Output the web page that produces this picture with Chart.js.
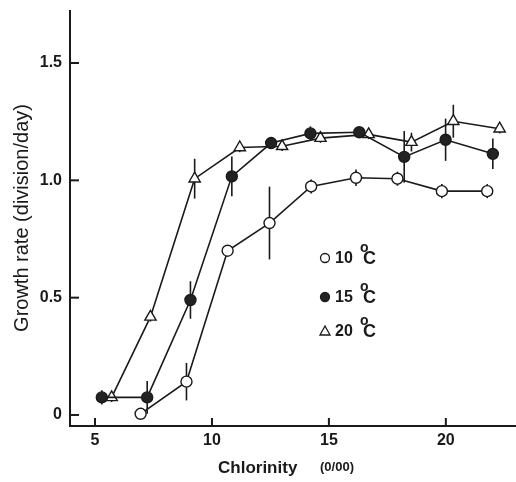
<!DOCTYPE html>
<html>
<head>
<meta charset="utf-8">
<script src="https://cdn.jsdelivr.net/npm/chart.js@4.4.0/dist/chart.umd.min.js"></script>
<style>
  html, body { margin: 0; padding: 0; background: #fff; }
  #wrap { width: 516px; height: 482px; }
</style>
</head>
<body>
<div id="wrap"><canvas id="growthChart" width="516" height="482"></canvas></div>
<script>
// chlorinity (x) and growth rate (y), with error half-widths
var x10 = [6.95, 8.91, 10.67, 12.46, 14.24, 16.16, 17.93, 19.83, 21.77];
var y10 = [0.005, 0.142, 0.70, 0.818, 0.974, 1.011, 1.007, 0.954, 0.954];
var e10 = [0, 0.08, 0.02, 0.155, 0.03, 0.035, 0.03, 0.03, 0.03];

var x15 = [5.29, 7.23, 9.08, 10.85, 12.53, 14.21, 16.3, 18.22, 19.99, 22.01];
var y15 = [0.075, 0.075, 0.49, 1.017, 1.159, 1.20, 1.205, 1.10, 1.173, 1.113];
var e15 = [0.03, 0.07, 0.08, 0.085, 0.02, 0.03, 0.01, 0.11, 0.09, 0.065];

var x20 = [5.71, 7.37, 9.26, 11.19, 13.0, 14.64, 16.7, 18.53, 20.32, 22.3];
var y20 = [0.075, 0.418, 1.007, 1.14, 1.145, 1.18, 1.196, 1.163, 1.252, 1.22];
var e20 = [0.02, 0.02, 0.085, 0.02, 0.02, 0.02, 0.02, 0.04, 0.07, 0.02];

var xTicks = [5, 10, 15, 20];
var yTicks = [0, 0.5, 1.0, 1.5];
var legendLabels = ['10', '15', '20'];

var ink = '#1a1a1a';
var font = '"Liberation Sans", Arial, sans-serif';

function points(xs, ys) {
    var out = [];
    for (var i = 0; i < xs.length; i++) out.push({ x: xs[i], y: ys[i] });
    return out;
}

var datasets = [
    { label: '10', data: points(x10, y10), err: e10, pointStyle: 'circle', pointRadius: 5.5,
      pointBackgroundColor: '#fff' },
    { label: '15', data: points(x15, y15), err: e15, pointStyle: 'circle', pointRadius: 5.5,
      pointBackgroundColor: '#222' },
    { label: '20', data: points(x20, y20), err: e20, pointStyle: 'triangle', pointRadius: 6.5,
      pointBackgroundColor: '#fff' }
];
datasets.forEach(function (d) {
    d.showLine = true;
    d.borderColor = ink;
    d.borderWidth = 1.6;
    d.pointBorderColor = ink;
    d.pointBorderWidth = 1.4;
});

// error bars + inward ticks + legend + x title
var extras = {
    id: 'extras',
    beforeDatasetsDraw: function (chart) {
        var c = chart.ctx, xs = chart.scales.x, ys = chart.scales.y;
        c.save();
        c.strokeStyle = ink;
        c.lineWidth = 1.6;
        chart.data.datasets.forEach(function (d) {
            d.data.forEach(function (p, i) {
                var e = d.err[i];
                if (!e) return;
                var px = xs.getPixelForValue(p.x);
                c.beginPath();
                c.moveTo(px, ys.getPixelForValue(p.y - e));
                c.lineTo(px, ys.getPixelForValue(p.y + e));
                c.stroke();
            });
        });
        c.restore();
    },
    afterDraw: function (chart) {
        var c = chart.ctx, xs = chart.scales.x, ys = chart.scales.y, a = chart.chartArea;
        c.save();
        c.strokeStyle = ink;
        c.lineWidth = 2;
        // axes
        c.beginPath();
        c.moveTo(a.left, a.top);
        c.lineTo(a.left, a.bottom);
        c.lineTo(a.right, a.bottom);
        c.stroke();
        // inward ticks
        xTicks.forEach(function (v) {
            var px = xs.getPixelForValue(v);
            c.beginPath(); c.moveTo(px, a.bottom); c.lineTo(px, a.bottom - 8); c.stroke();
        });
        yTicks.forEach(function (v) {
            var py = ys.getPixelForValue(v);
            c.beginPath(); c.moveTo(a.left, py); c.lineTo(a.left + 9, py); c.stroke();
        });

        // legend
        var rows = [258, 297, 331];
        c.fillStyle = ink;
        c.textBaseline = 'middle';
        c.lineWidth = 1.3;
        rows.forEach(function (ry, i) {
            var d = chart.data.datasets[i];
            c.beginPath();
            if (d.pointStyle === 'triangle') {
                c.moveTo(325, ry - 5); c.lineTo(330, ry + 4); c.lineTo(320, ry + 4); c.closePath();
                c.fillStyle = '#fff'; c.fill();
            } else {
                c.arc(325, ry, 4.5, 0, Math.PI * 2);
                c.fillStyle = d.pointBackgroundColor; c.fill();
            }
            c.stroke();
            c.fillStyle = ink;
            c.font = 'bold 16px ' + font;
            c.textAlign = 'left';
            c.fillText(legendLabels[i], 335, ry + 1);
            c.font = 'bold 14px ' + font;
            c.fillText('o', 360, ry - 10);
            c.font = 'bold 18px ' + font;
            c.fillText('C', 363, ry + 1);
        });

        // x title
        c.textAlign = 'left';
        c.textBaseline = 'alphabetic';
        c.font = 'bold 17px ' + font;
        c.fillText('Chlorinity', 218, 473);
        c.font = 'bold 13px ' + font;
        c.fillText('(0/00)', 320, 471);
        c.restore();
    }
};

var ctx = document.getElementById('growthChart').getContext('2d');
var growthChart = new Chart(ctx, {
    type: 'scatter',
    data: { datasets: datasets },
    options: {
        responsive: false,
        animation: false,
        layout: { autoPadding: false, padding: { top: 10, right: 0, left: 0, bottom: 0 } },
        plugins: { legend: { display: false }, tooltip: { enabled: false } },
        scales: {
            x: {
                min: 3.93, max: 23.0,
                afterBuildTicks: function (s) { s.ticks = xTicks.map(function (v) { return { value: v }; }); },
                afterFit: function (s) { s.height = 56; s.paddingLeft = 0; s.paddingRight = 0; },
                grid: { display: false, drawTicks: false, tickLength: 0 },
                border: { display: false },
                ticks: { color: ink, font: { family: font, size: 16, weight: 'bold' }, padding: 5,
                         maxRotation: 0, callback: function (v) { return String(v); } }
            },
            y: {
                min: -0.047, max: 1.726,
                afterBuildTicks: function (s) { s.ticks = yTicks.map(function (v) { return { value: v }; }); },
                afterFit: function (s) { s.width = 70; s.paddingTop = 0; s.paddingBottom = 0; },
                grid: { display: false, drawTicks: false, tickLength: 0 },
                border: { display: false },
                title: { display: true, text: 'Growth rate (division/day)', color: ink,
                         font: { family: font, size: 20 }, padding: { top: 10, bottom: 0 } },
                ticks: { color: ink, font: { family: font, size: 16, weight: 'bold' }, padding: 8,
                         callback: function (v) { return v === 0 ? '0' : v.toFixed(1); } }
            }
        }
    },
    plugins: [extras]
});
</script>
</body>
</html>
